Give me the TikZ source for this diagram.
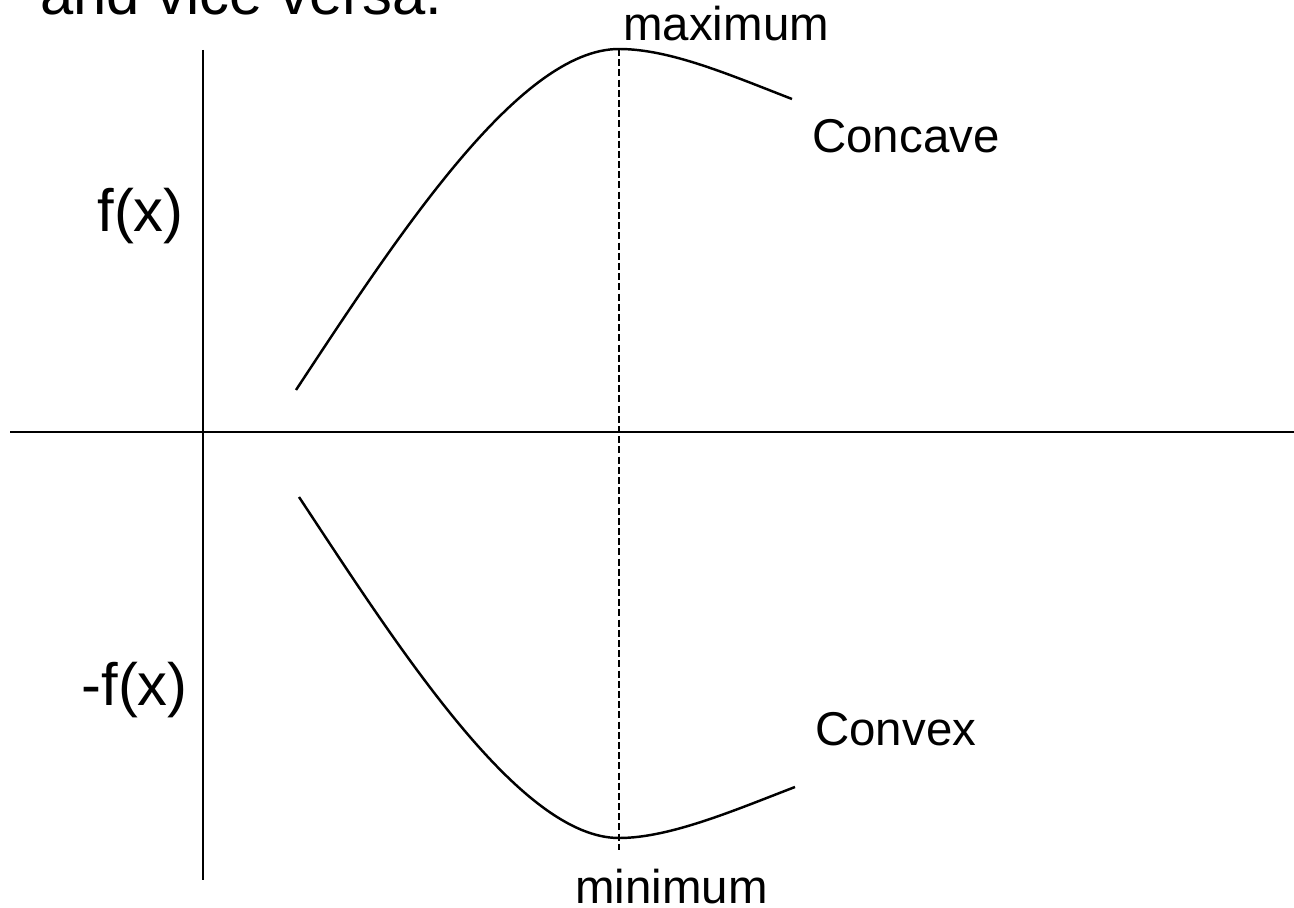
\documentclass[tikz,border=0pt]{standalone}
\usepackage{fontspec}
\setmainfont{Liberation Sans}
\usetikzlibrary{positioning}

\begin{document}
\begin{tikzpicture}[
  x=0.02cm, y=-0.02cm,
  axis/.style={line width=1.4pt, color=black},
  curve/.style={line width=1.4pt, color=black},
  guide/.style={line width=0.7pt, dash pattern=on 4pt off 1.8pt},
  lbl/.style={inner sep=0pt, font=\fontsize{27}{30}\selectfont},
  big/.style={inner sep=0pt, font=\fontsize{34}{38}\selectfont},
]
  \useasboundingbox (0,0) rectangle (1294,908);

  % heading, cut off at the top
  \node[big, anchor=base west] (head) at (40,15) {and vice versa.};

  % axes
  \coordinate (ytop) at (203,50);
  \coordinate (ybot) at (203,880);
  \coordinate (xleft) at (10,432);
  \coordinate (xright) at (1294,432);
  \draw[axis] (ytop) -- (ybot);
  \draw[axis] (xleft) -- (xright);

  % curve points
  \coordinate (fstart) at (296,390);
  \coordinate (fmax) at (619,49);
  \coordinate (fend) at (792,99);
  \coordinate (gstart) at (299,497);
  \coordinate (gmin) at (619,838);
  \coordinate (gend) at (795,787);
  \coordinate (guideend) at (619,850);

  \draw[curve] (fstart) .. controls (400,232) and (520,49) .. (fmax)
    .. controls (670,49) and (730,75) .. (fend);
  \draw[curve] (gstart) .. controls (400,650) and (520,838) .. (gmin)
    .. controls (670,838) and (735,810) .. (gend);
  \draw[guide] (fmax) -- (guideend);

  % labels
  \node[lbl, anchor=base west] (maxlbl) at (623,41) {maximum};
  \node[lbl, anchor=base west] (minlbl) at (575,903) {minimum};
  \node[lbl, anchor=base west] (cav) at (812,153) {Concave};
  \node[lbl, anchor=base west] (vex) at (815,745) {Convex};
  \node[big, anchor=base east] (fx) at (184,232) {f(x)};
  \node[big, anchor=base east] (mfx) at (188,705) {-f(x)};
\end{tikzpicture}
\end{document}
